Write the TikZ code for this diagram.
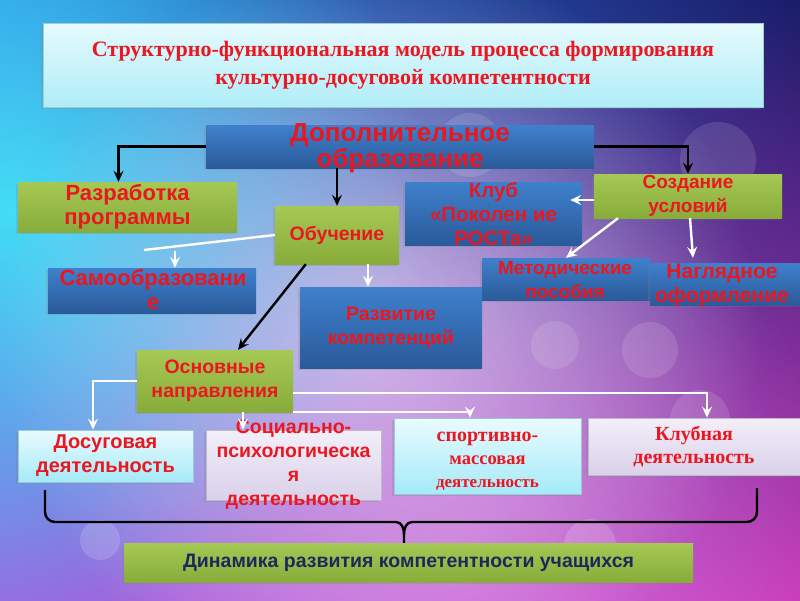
\documentclass[tikz,border=0pt]{standalone}
\usepackage{fontspec}
\setmainfont{Liberation Serif}
\setsansfont{Liberation Sans}
\usetikzlibrary{positioning,shadows,shadings,fadings,arrows.meta}

\definecolor{txtred}{HTML}{EC1620}
\definecolor{navytext}{HTML}{1B2A5C}
\definecolor{grnT}{HTML}{A6C855}
\definecolor{grnB}{HTML}{88AC3A}
\definecolor{bluT}{HTML}{3F80CC}
\definecolor{bluB}{HTML}{2A5A9A}
\definecolor{cynT}{HTML}{EAFBFE}
\definecolor{cynB}{HTML}{A4EAF8}
\definecolor{lavT}{HTML}{F3EFF9}
\definecolor{lavB}{HTML}{D9D1EA}
\definecolor{ttlT}{HTML}{E6FAFD}
\definecolor{ttlB}{HTML}{B0EDF8}
\definecolor{bgTL}{HTML}{2C80E2}
\definecolor{bgTR}{HTML}{1A1C6A}
\definecolor{bgBL}{HTML}{9A68E2}
\definecolor{bgBR}{HTML}{C83ABA}
\definecolor{glowcyan}{HTML}{42E8F8}
\definecolor{glowpink}{HTML}{F0A0F0}

\tikzfading[name=glow, inner color=transparent!0, outer color=transparent!100]

\tikzset{
  box/.style={rectangle, align=center, inner sep=1pt, text=txtred,
    drop shadow={opacity=0.25, shadow xshift=-2pt, shadow yshift=-2pt}},
  greenbox/.style={box, top color=grnT, bottom color=grnB},
  bluebox/.style={box, top color=bluT, bottom color=bluB},
  cyanbox/.style={box, top color=cynT, bottom color=cynB, draw=cynB!70!gray, line width=0.8pt},
  lavbox/.style={box, top color=lavT, bottom color=lavB, draw=lavB!70!gray, line width=0.8pt},
  titlebox/.style={box, top color=ttlT, bottom color=ttlB, draw=ttlB!70!gray, line width=0.8pt},
  sanstext/.style={font=\sffamily\bfseries\fontsize{#1}{24}\selectfont},
  sanstext/.default=20,
  seriftext/.style={font=\bfseries\fontsize{#1}{23}\selectfont},
  seriftext/.default=20,
  overtext/.style={sanstext=#1, align=center, text=txtred, inner sep=0pt},
  overtext/.default=20,
  blackline/.style={draw=black, line width=2.4pt},
  whiteline/.style={draw=white, line width=2.4pt},
}

\begin{document}
\begin{tikzpicture}[x=1pt,y=-1pt,every path/.style={>={Stealth[length=11pt,width=10pt,inset=4pt]}}]
\useasboundingbox (0,0) rectangle (800,600);
% background
\fill[upper left=bgTL, upper right=bgTR, lower left=bgBL, lower right=bgBR] (0,0) rectangle (800,600);
\fill[glowcyan, opacity=.9, path fading=glow] (10,210) circle (420);
\fill[white, opacity=.6, path fading=glow] (380,335) circle (380);
\fill[glowpink, opacity=.4, path fading=glow] (470,540) circle (380);
\fill[white, opacity=.12] (470,145) circle (32);
\fill[white, opacity=.12] (718,160) circle (38);
\fill[white, opacity=.12] (650,350) circle (28);
\fill[white, opacity=.12] (700,420) circle (30);
\fill[white, opacity=.15] (590,545) circle (26);
\fill[white, opacity=.15] (100,540) circle (20);
\fill[white, opacity=.12] (555,345) circle (24);

% title
\node[titlebox, font=\bfseries\fontsize{22}{28}\selectfont, minimum width=720, minimum height=84] (title) at (403,65)
  {Структурно-функциональная модель процесса формирования\\культурно-досуговой компетентности};

% boxes
\node[bluebox, minimum width=388, minimum height=43] (dop) at (400,146.5) {};
\node[overtext, font=\sffamily\bfseries\fontsize{26}{26}\selectfont] (doptxt) at (400,148) {Дополнительное\\образование};
\node[greenbox, sanstext=22, minimum width=219, minimum height=50] (razr) at (127.5,207) {Разработка\\программы};
\node[greenbox, sanstext=19.5, minimum width=124, minimum height=58] (obuch) at (337,235) {Обучение};
\node[bluebox, minimum width=177, minimum height=63] (club) at (493.5,213.5) {};
\node[overtext=20.5] (clubtxt) at (493.5,214) {Клуб\\«Поколен ие\\РОСТа»};
\node[greenbox, sanstext=19, minimum width=188, minimum height=44] (sozd) at (688,196) {Создание\\условий};
\node[bluebox, minimum width=208, minimum height=45] (samo) at (152,290.5) {};
\node[overtext=22] (samotxt) at (153,290) {Самообразовани\\е};
\node[bluebox, minimum width=168, minimum height=42] (metod) at (566,279) {};
\node[overtext=19] (metodtxt) at (565,280) {Методические\\пособия};
\node[bluebox, minimum width=154, minimum height=42] (nagl) at (727,284) {};
\node[overtext=21] (nagltxt) at (722,285) {Наглядное\\оформление};
\node[bluebox, sanstext=19.5, minimum width=182, minimum height=81] (razv) at (391,327.5) {Развитие\\компетенций};
\node[greenbox, sanstext=19.5, minimum width=156, minimum height=62] (osn) at (215,381) {Основные\\направления};
\node[cyanbox, sanstext=20, minimum width=175, minimum height=52] (dosug) at (105.5,456) {Досуговая\\деятельность};
\node[lavbox, minimum width=175, minimum height=70] (soc) at (293.5,465) {};
\node[overtext=19.5] (soctxt) at (293.5,465) {Социально-\\психологическа\\я\\деятельность};
\node[cyanbox, minimum width=187, minimum height=76] (sport) at (487.5,456) {};
\node[overtext, seriftext=20] (sporttxt) at (487.5,461)
  {спортивно-\\{\fontsize{18.5}{23}\selectfont массовая}\\{\fontsize{17}{23}\selectfont деятельность}};
\node[lavbox, seriftext=20, minimum width=212, minimum height=57] (klub) at (694,446.5) {Клубная\\деятельность};
\node[greenbox, font=\sffamily\bfseries\fontsize{19.5}{20}\selectfont, text=navytext, minimum width=569, minimum height=39] (dinam) at (408.5,562.5)
  {Динамика развития компетентности учащихся};

% black connectors
\draw[blackline, ->] (dop.west) -| ([xshift=-9]razr.north);
\draw[blackline, ->] (dop.south -| obuch.north) -- (obuch.north);
\draw[blackline, ->] (dop.east) -| (sozd.north);
\draw[blackline, ->] ([xshift=31]obuch.south west) -- ([xshift=23]osn.north);

% white connectors
\coordinate (samoend) at (144,250);
\coordinate (samoin) at (175,251);
\draw[whiteline] (obuch.west) -- (samoend);
\draw[whiteline, ->] (samoin) -- (samoin |- samo.north);
\draw[whiteline, ->] ([xshift=31]obuch.south) -- ([xshift=31]obuch.south |- razv.north);
\draw[whiteline, ->] ([yshift=-4]sozd.west) -- ([xshift=-12,yshift=13.5]club.east);
\draw[whiteline, ->] ([xshift=-70]sozd.south) -- (metod.north);
\draw[whiteline, ->] ([xshift=2]sozd.south) -- ([xshift=-34,yshift=5]nagl.north);
\draw[whiteline, ->] (osn.west) -| ([xshift=-12.5]dosug.north);
\draw[whiteline, ->] ([yshift=-12]osn.east) -| ([xshift=13]klub.north);
\draw[whiteline, ->] (osn.south east) -| ([xshift=-17.5]sport.north);
\draw[whiteline, ->] ([xshift=28]osn.south) -- ([xshift=28]osn.south |- soc.north);

% brace
\coordinate (bl) at (45,490);
\coordinate (br) at (757,488);
\coordinate (cusp) at (404,534);
\draw[blackline, rounded corners=10] (bl) |- (396,522);
\draw[blackline] (396,522) to[out=0,in=90] (cusp) -- (cusp |- dinam.north);
\draw[blackline, rounded corners=10] (br) |- (412,522);
\draw[blackline] (412,522) to[out=180,in=90] (cusp);
\end{tikzpicture}
\end{document}
